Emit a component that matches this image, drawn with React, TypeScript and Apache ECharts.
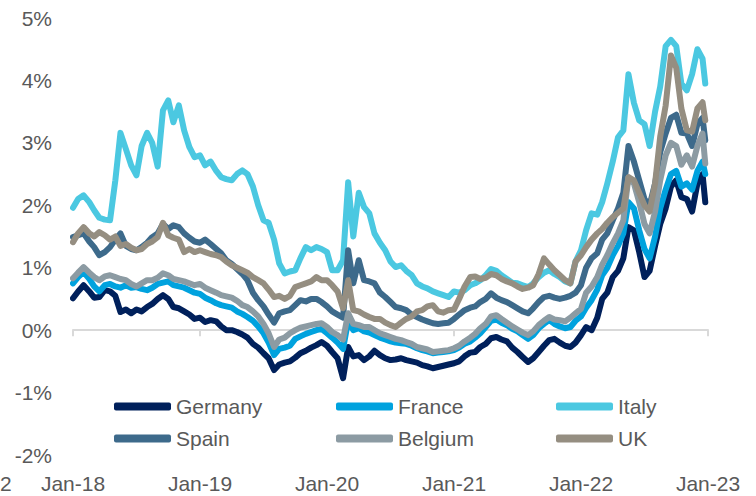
import React, { useEffect, useRef } from "react";
import * as echarts from "echarts";

const dates: string[] = [
  "2018-01-01","2018-01-16","2018-02-01","2018-02-16","2018-03-01","2018-03-16","2018-04-01","2018-04-16","2018-05-01","2018-05-16","2018-06-01","2018-06-16",
  "2018-07-01","2018-07-16","2018-08-01","2018-08-16","2018-09-01","2018-09-16","2018-10-01","2018-10-16","2018-11-01","2018-11-16","2018-12-01","2018-12-16",
  "2019-01-01","2019-01-16","2019-02-01","2019-02-16","2019-03-01","2019-03-16","2019-04-01","2019-04-16","2019-05-01","2019-05-16","2019-06-01","2019-06-16",
  "2019-07-01","2019-07-16","2019-08-01","2019-08-16","2019-09-01","2019-09-16","2019-10-01","2019-10-16","2019-11-01","2019-11-16","2019-12-01","2019-12-16",
  "2020-01-01","2020-01-16","2020-02-01","2020-02-16","2020-03-01","2020-03-16","2020-04-01","2020-04-16","2020-05-01","2020-05-16","2020-06-01","2020-06-16",
  "2020-07-01","2020-07-16","2020-08-01","2020-08-16","2020-09-01","2020-09-16","2020-10-01","2020-10-16","2020-11-01","2020-11-16","2020-12-01","2020-12-16",
  "2021-01-01","2021-01-16","2021-02-01","2021-02-16","2021-03-01","2021-03-16","2021-04-01","2021-04-16","2021-05-01","2021-05-16","2021-06-01","2021-06-16",
  "2021-07-01","2021-07-16","2021-08-01","2021-08-16","2021-09-01","2021-09-16","2021-10-01","2021-10-16","2021-11-01","2021-11-16","2021-12-01","2021-12-16",
  "2022-01-01","2022-01-16","2022-02-01","2022-02-16","2022-03-01","2022-03-16","2022-04-01","2022-04-16","2022-05-01","2022-05-16","2022-06-01","2022-06-16",
  "2022-07-01","2022-07-16","2022-08-01","2022-08-16","2022-09-01","2022-09-16","2022-10-01","2022-10-16","2022-11-01","2022-11-16","2022-12-01","2022-12-16",
  "2022-12-24",
];

const germany: number[] = [
  0.51,0.62,0.72,0.62,0.52,0.53,0.64,0.62,0.55,0.29,0.33,0.27,
  0.33,0.30,0.37,0.42,0.50,0.56,0.50,0.37,0.35,0.30,0.25,0.18,
  0.20,0.13,0.16,0.14,0.06,0.00,0.00,-0.03,-0.07,-0.12,-0.22,-0.28,
  -0.37,-0.45,-0.64,-0.55,-0.52,-0.50,-0.44,-0.37,-0.33,-0.28,-0.24,-0.19,
  -0.25,-0.35,-0.45,-0.77,-0.27,-0.42,-0.40,-0.48,-0.42,-0.33,-0.40,-0.45,
  -0.48,-0.47,-0.45,-0.48,-0.50,-0.52,-0.56,-0.58,-0.61,-0.59,-0.57,-0.55,
  -0.53,-0.50,-0.42,-0.36,-0.35,-0.27,-0.22,-0.13,-0.11,-0.15,-0.18,-0.28,
  -0.35,-0.43,-0.51,-0.45,-0.35,-0.25,-0.16,-0.14,-0.20,-0.25,-0.27,-0.20,
  -0.08,0.05,0.00,0.20,0.50,0.60,0.85,0.95,1.15,1.65,1.60,1.25,
  0.85,0.95,1.35,1.70,1.95,2.30,2.40,2.13,2.10,1.90,2.35,2.50,
  2.05,
];

const france: number[] = [
  0.75,0.85,0.93,0.82,0.70,0.62,0.72,0.74,0.70,0.68,0.72,0.68,
  0.69,0.66,0.64,0.68,0.74,0.76,0.78,0.72,0.70,0.68,0.64,0.60,
  0.58,0.52,0.48,0.43,0.40,0.38,0.36,0.30,0.26,0.21,0.15,0.06,
  -0.05,-0.20,-0.40,-0.30,-0.28,-0.25,-0.14,-0.10,-0.06,-0.03,0.00,0.02,
  -0.05,-0.12,-0.20,-0.30,0.15,0.00,0.03,-0.02,-0.04,-0.08,-0.12,-0.15,
  -0.18,-0.20,-0.21,-0.22,-0.25,-0.29,-0.32,-0.34,-0.37,-0.36,-0.35,-0.34,
  -0.32,-0.28,-0.22,-0.18,-0.12,-0.05,0.05,0.15,0.17,0.12,0.08,0.02,
  -0.02,-0.08,-0.14,-0.08,0.03,0.10,0.16,0.10,0.06,0.03,0.05,0.15,
  0.22,0.36,0.48,0.65,0.88,1.00,1.20,1.35,1.55,2.05,1.95,1.60,
  1.30,1.15,1.50,1.95,2.25,2.50,2.55,2.30,2.35,2.25,2.55,2.70,
  2.50,
];

const italy: number[] = [
  1.96,2.10,2.16,2.05,1.92,1.80,1.77,1.76,2.40,3.16,2.90,2.64,
  2.48,2.95,3.16,3.00,2.62,3.52,3.68,3.33,3.60,3.20,2.93,2.77,
  2.80,2.64,2.70,2.55,2.45,2.42,2.40,2.50,2.56,2.50,2.30,2.00,
  1.76,1.72,1.45,1.07,0.91,0.94,0.96,1.15,1.33,1.28,1.33,1.30,
  1.25,0.96,0.96,1.12,2.37,1.50,2.20,1.97,1.87,1.55,1.40,1.28,
  1.10,1.01,1.04,0.95,0.88,0.75,0.70,0.67,0.62,0.59,0.56,0.53,
  0.62,0.60,0.64,0.72,0.75,0.80,0.88,0.98,0.95,0.88,0.82,0.76,
  0.75,0.72,0.69,0.75,0.85,0.92,0.96,0.90,0.85,0.78,0.75,1.10,
  1.28,1.60,1.87,1.85,2.05,2.35,2.70,3.09,3.20,4.10,3.64,3.36,
  3.30,2.95,3.50,3.90,4.55,4.65,4.55,3.95,3.84,4.10,4.50,4.35,
  3.95,
];

const spain: number[] = [
  1.49,1.52,1.55,1.42,1.33,1.20,1.25,1.33,1.45,1.55,1.35,1.30,
  1.28,1.33,1.40,1.49,1.55,1.70,1.62,1.68,1.65,1.55,1.48,1.42,
  1.40,1.45,1.38,1.30,1.23,1.12,1.06,0.98,0.90,0.80,0.60,0.48,
  0.38,0.25,0.12,0.27,0.30,0.32,0.40,0.48,0.46,0.50,0.50,0.45,
  0.38,0.30,0.25,0.20,1.28,0.75,1.12,0.80,0.78,0.75,0.60,0.53,
  0.45,0.37,0.35,0.32,0.25,0.21,0.17,0.14,0.11,0.10,0.11,0.12,
  0.18,0.25,0.32,0.36,0.38,0.45,0.50,0.59,0.52,0.48,0.45,0.40,
  0.35,0.30,0.27,0.35,0.45,0.53,0.55,0.52,0.50,0.52,0.55,0.60,
  0.72,1.00,1.15,1.23,1.45,1.55,1.76,1.95,2.20,2.95,2.70,2.40,
  2.10,2.00,2.35,2.85,3.15,3.40,3.45,3.16,3.15,2.95,3.30,3.40,
  3.04,
];

const belgium: number[] = [
  0.83,0.92,1.01,0.92,0.85,0.80,0.86,0.88,0.85,0.82,0.80,0.74,
  0.70,0.75,0.80,0.80,0.84,0.91,0.88,0.82,0.80,0.78,0.75,0.72,
  0.74,0.68,0.64,0.60,0.56,0.54,0.52,0.47,0.40,0.37,0.30,0.22,
  0.10,-0.05,-0.27,-0.15,-0.12,-0.05,0.00,0.04,0.06,0.08,0.10,0.11,
  0.05,-0.03,-0.08,-0.15,0.27,0.10,0.08,0.05,0.05,0.00,-0.05,-0.08,
  -0.11,-0.14,-0.16,-0.19,-0.22,-0.27,-0.29,-0.31,-0.35,-0.34,-0.33,-0.32,
  -0.29,-0.25,-0.18,-0.12,-0.06,0.03,0.10,0.22,0.24,0.18,0.12,0.06,
  0.01,-0.04,-0.08,-0.02,0.08,0.15,0.21,0.17,0.16,0.14,0.20,0.27,
  0.34,0.60,0.70,0.85,1.05,1.20,1.39,1.55,1.76,2.45,2.35,2.05,
  1.70,1.55,1.90,2.40,2.80,3.00,2.95,2.65,2.80,2.62,2.95,3.15,
  2.67,
];

const uk: number[] = [
  1.41,1.55,1.65,1.55,1.50,1.57,1.52,1.45,1.50,1.35,1.38,1.32,
  1.28,1.30,1.38,1.42,1.49,1.72,1.52,1.48,1.45,1.25,1.30,1.25,
  1.28,1.25,1.22,1.20,1.17,1.10,1.04,1.00,0.96,0.92,0.85,0.80,
  0.75,0.65,0.53,0.55,0.50,0.55,0.69,0.72,0.75,0.78,0.85,0.80,
  0.80,0.72,0.62,0.35,0.80,0.32,0.30,0.25,0.21,0.18,0.18,0.12,
  0.08,0.05,0.12,0.18,0.22,0.30,0.32,0.38,0.40,0.30,0.28,0.32,
  0.33,0.50,0.70,0.85,0.86,0.82,0.84,0.90,0.88,0.82,0.78,0.75,
  0.70,0.66,0.68,0.72,0.90,1.15,1.05,0.96,0.88,0.80,0.75,1.10,
  1.20,1.33,1.45,1.55,1.62,1.72,1.81,1.88,1.95,2.45,2.40,2.20,
  2.00,1.90,2.35,3.10,3.60,4.40,4.20,3.55,3.20,3.18,3.55,3.65,
  3.36,
];

const seriesNames = ["Germany", "France", "Italy", "Spain", "Belgium", "UK"];
const seriesColors = ["#00205b", "#00a2de", "#4bc8e1", "#3d6a8b", "#8c9ba3", "#958e81"];
const yTicks = [-2, -1, 0, 1, 2, 3, 4, 5];
const xTickLabels = ["Jan-18", "Jan-19", "Jan-20", "Jan-21", "Jan-22", "Jan-23"];

const FONT = "'Liberation Sans', Arial, sans-serif";
const TEXT_COLOR = "#595959";

function toYear(d: string): number {
  const [y, m, day] = d.split("-").map(Number);
  const dim = new Date(y, m, 0).getDate();
  return y + (m - 1 + (day - 1) / dim) / 12;
}

export default function App() {
  const ref = useRef<HTMLDivElement>(null);
  useEffect(() => {
    if (!ref.current) return;
    const chart = echarts.init(ref.current, undefined, { renderer: "svg" });
    const xs = dates.map(toYear);
    const allData = [germany, france, italy, spain, belgium, uk];
    const series: any[] = allData.map((vals, i) => ({
      name: seriesNames[i],
      type: "line",
      xAxisIndex: 0,
      yAxisIndex: 0,
      showSymbol: false,
      symbol: "none",
      lineStyle: { width: 6, color: seriesColors[i], cap: "round", join: "round" },
      itemStyle: { color: seriesColors[i] },
      data: vals.map((v, k) => [xs[k], v]),
      z: 2 + i,
    }));
    const legendCols = [
      { names: ["Germany", "Spain"], left: 114 },
      { names: ["France", "Belgium"], left: 336 },
      { names: ["Italy", "UK"], left: 556 },
    ];
    chart.setOption({
      animation: false,
      grid: { left: 73, right: 48, top: 18, bottom: 41, containLabel: false },
      xAxis: [
        {
          type: "value",
          min: 2018,
          max: 2023,
          interval: 1,
          position: "bottom",
          axisLine: { show: false, onZero: false },
          axisTick: { show: false },
          splitLine: { show: false },
          axisLabel: {
            margin: 18,
            fontFamily: FONT,
            fontSize: 21,
            color: TEXT_COLOR,
            formatter: (v: number) => xTickLabels[Math.round(v - 2018)] ?? "",
          },
        },
        {
          type: "value",
          min: 2018,
          max: 2023,
          interval: 1,
          position: "bottom",
          axisLine: { show: true, onZero: true, lineStyle: { color: "#d9d9d9", width: 2 } },
          axisTick: { show: true, length: 6, inside: false, lineStyle: { color: "#d9d9d9", width: 2 } },
          splitLine: { show: false },
          axisLabel: { show: false },
        },
      ],
      yAxis: {
        type: "value",
        min: -2,
        max: 5,
        interval: 1,
        axisLine: { show: false },
        axisTick: { show: false },
        splitLine: { show: false },
        axisLabel: {
          margin: 21,
          fontFamily: FONT,
          fontSize: 21,
          color: TEXT_COLOR,
          formatter: (v: number) => (yTicks.includes(v) ? `${v}%` : ""),
        },
      },
      legend: legendCols.map((c) => ({
        data: c.names,
        orient: "vertical",
        left: c.left,
        top: 396,
        itemWidth: 57,
        itemHeight: 8,
        itemGap: 11,
        icon: "roundRect",
        textStyle: { fontFamily: FONT, fontSize: 21, color: TEXT_COLOR, lineHeight: 21 },
        padding: 0,
      })),
      graphic: [
        {
          type: "text",
          left: 0,
          top: 473,
          style: { text: "2", fontFamily: FONT, fontSize: 21, fill: TEXT_COLOR },
        },
      ],
      series,
    });
    return () => chart.dispose();
  }, []);
  return <div ref={ref} style={{ width: 756, height: 496, position: "absolute", left: 0, top: 0 }} />;
}
